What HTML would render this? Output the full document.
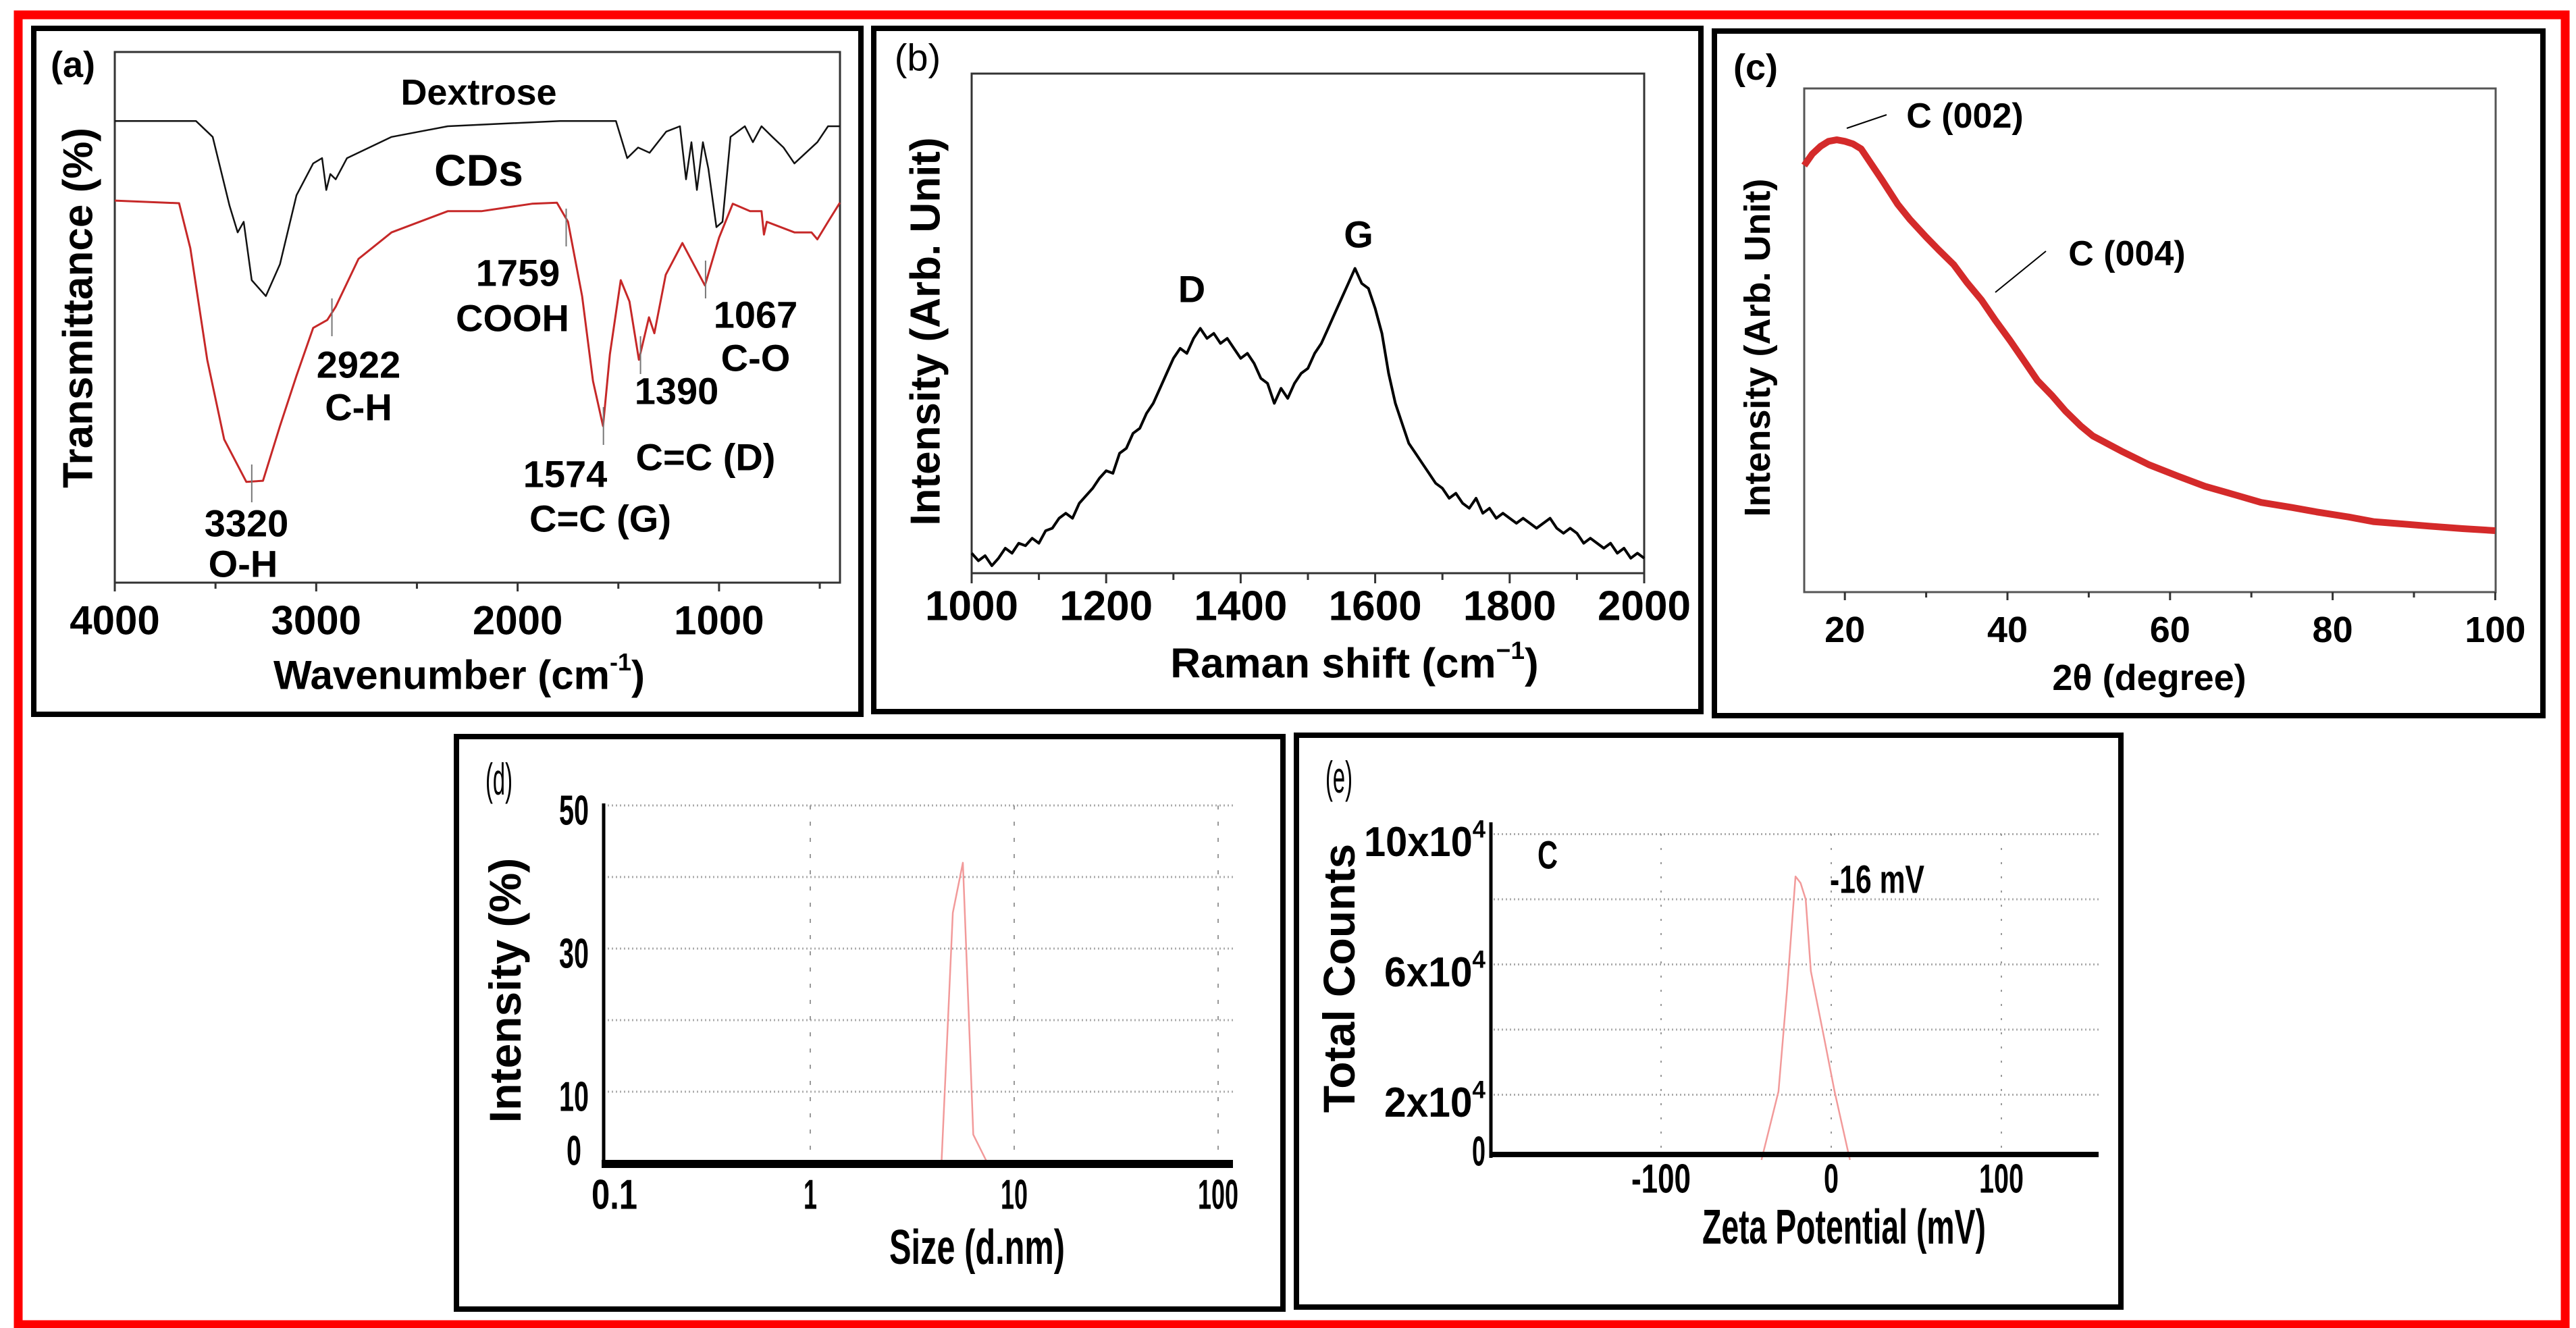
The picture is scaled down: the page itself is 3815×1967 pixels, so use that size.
<!DOCTYPE html>
<html><head><meta charset="utf-8"><style>
html,body{margin:0;padding:0;background:#fff;}
svg{display:block;font-family:"Liberation Sans",Arial,sans-serif;}
</style></head><body>
<svg id="fig" xmlns="http://www.w3.org/2000/svg" width="3815" height="1967" viewBox="0 0 3815 1967">
<rect x="27" y="22" width="3772" height="1940" fill="none" stroke="#ff0000" stroke-width="13"/>
<rect x="50" y="42" width="1225" height="1016" fill="none" stroke="#000" stroke-width="8"/>
<rect x="1294" y="42" width="1225" height="1012" fill="none" stroke="#000" stroke-width="8"/>
<rect x="2539" y="46" width="1227" height="1014" fill="none" stroke="#000" stroke-width="8"/>
<rect x="676" y="1091" width="1224" height="848" fill="none" stroke="#000" stroke-width="8"/>
<rect x="1920" y="1089" width="1221" height="847" fill="none" stroke="#000" stroke-width="8"/>
<g id="layer"></g>
</svg>
<script>
// ---- Panel a: FTIR ----
const dexWn = [4000,3597,3514,3430,3390,3360,3320,3250,3180,3098,3015,2971,2950,2930,2903,2847,2626,2347,1790,1512,1456,1402,1345,1262,1194,1164,1137,1110,1080,1053,1013,983,943,872,832,789,735,680,626,569,512,459,400];
const dexT = [87,87,84,71,66,68,57,54,60,73,79,80,74,77,76,80,84,86,87,87,80,82,81,85,86,76,83,74,83,78,67,68,84,86,83,86,84,82,79,81,83,86,86];
const cdsWn = [4000,3681,3625,3541,3457,3347,3264,3180,3098,3015,2945,2903,2790,2626,2347,2180,1929,1805,1750,1680,1626,1576,1542,1488,1445,1398,1348,1321,1265,1182,1126,1070,1000,932,846,789,777,763,626,541,512,459,400];
const cdsT = [72,71.5,63,42,27,19,19.2,29.5,39,48,49.5,52,61,66,70,70,71.4,71.6,68,54,38,29.5,43,57,53,42,50,47,58,64,60,56,65,71.4,70,70,65.6,68,66,66,64.7,68,71.6];
const aTickVals = [4000,3000,2000,1000];
const aMinorVals = [3500,2500,1500,500];
const aMarkWn = [3320,2922,1759,1574,1390,1067];
// ---- Panel b: Raman ----
const ramanShift = [1000,1010,1020,1030,1040,1050,1060,1070,1080,1090,1100,1110,1120,1130,1140,1150,1160,1170,1180,1190,1200,1210,1220,1230,1240,1250,1260,1270,1280,1290,1300,1310,1320,1330,1340,1350,1360,1370,1380,1390,1400,1410,1420,1430,1440,1450,1460,1470,1480,1490,1500,1510,1520,1530,1540,1550,1560,1570,1580,1590,1600,1610,1620,1630,1640,1650,1660,1670,1680,1690,1700,1710,1720,1730,1740,1750,1760,1770,1780,1790,1800,1810,1820,1830,1840,1850,1860,1870,1880,1890,1900,1910,1920,1930,1940,1950,1960,1970,1980,1990,2000];
const ramanInt = [4,2.5,3.5,1.5,3,5,4,6,5.5,7,6,8.5,9,11,12,11,14,15.5,17,19,20.5,20,24,25,28,29,32,34,37,40,43,45,44,47,49,47,48,46,47,45,43,44,42,39,38,34,37,35,38,40,41,44,46,49,52,55,58,61,58,57,53,48,40,34,30,26,24,22,20,18,17,15,16,14,13,15,12,13,11,12,11,10,11,10,9,10,11,9,8,9,8,6,7,6,5,6,4,5,3,4,3];
const bTickVals = [1000,1200,1400,1600,1800,2000];
const bMinorVals = [1100,1300,1500,1700,1900];
// ---- Panel c: XRD ----
const xrdAngle = [15,16,17,18,19,20,21,22,23,24.5,26.5,28,30,31.5,33.4,35,36.8,38.5,40.3,42,43.7,45.5,47.1,49,50.5,54,57.4,61,64.3,68,71.2,75,78.1,82,85,88,91.9,96,100];
const xrdInt = [84.7,87,88.5,89.5,89.8,89.5,89,88,85.6,82,77,74,70.5,68,65,61.5,58,54,50,46,42,39,36,33,31,28,25.3,23,21,19.3,17.8,16.8,15.9,14.9,14,13.6,13.1,12.6,12.2];
const cTickVals = [20,40,60,80,100];
const cMinorVals = [30,50,70,90];
// ---- Panel d: DLS size ----
const dlsSize = [4.4,4.7,5.0,5.6,6.0,6.3,7.4];
const dlsPct = [0,18,35,42,20,4,0];
const dTickVals = [0.1,1,10,100];
const dYTicks = [0,10,30,50];
const dGrid = [10,20,30,40,50];
// ---- Panel e: Zeta ----
const zetaMv = [-41,-31,-26,-21,-18,-15,-12,-4,2,11];
const zetaCounts = [0,21000,52000,87000,85000,80000,58000,37000,21000,0];
const eXTicks = [-100,0,100];
const eYTicks = [0,20000,60000,100000];
const eYLabels = ['0','2x10','6x10','10x10'];
const eGrid = [20000,40000,60000,80000,100000];

const NS='http://www.w3.org/2000/svg';
const layer=document.getElementById('layer');
function el(tag,attrs,name,parent){
  const e=document.createElementNS(NS,tag);
  for(const k in attrs) e.setAttribute(k,attrs[k]);
  
  
  (parent||layer).appendChild(e);
  return e;
}
function txt(x,y,s,size,name,opts){
  opts=opts||{};
  const a={x:x,y:y,'font-size':size,'font-weight':opts.weight||'bold','text-anchor':opts.anchor||'middle','dominant-baseline':'central',fill:opts.fill||'#000'};
  if(opts.rot) a.transform='rotate('+opts.rot+' '+x+' '+y+')';
  if(opts.len){a.textLength=opts.len;a.lengthAdjust='spacingAndGlyphs';}
  const t=el('text',a,name);
  t.textContent=s;
  return t;
}
function sup(t,s,name,dy){
  const sp=document.createElementNS(NS,'tspan');
  
  
  sp.setAttribute('dy',dy);
  sp.setAttribute('font-size','0.6em');
  sp.textContent=s;
  t.appendChild(sp);
  return sp;
}
function closeParen(t,name,dy){
  const sp=document.createElementNS(NS,'tspan');
  
  
  sp.setAttribute('dy',dy);
  sp.textContent=')';
  t.appendChild(sp);
}
function poly(xs,ys,fx,fy,stroke,w,name){
  const pts=xs.map((v,i)=>fx(v).toFixed(1)+','+fy(ys[i]).toFixed(1)).join(' ');
  return el('polyline',{points:pts,fill:'none',stroke:stroke,'stroke-width':w,'stroke-linejoin':'round'},name);
}

// Panel a
const xA=w=>170+(4000-w)*0.2983, yA=t=>863-t*7.86;
el('rect',{x:170,y:77,width:1074,height:786,fill:'none',stroke:'#333',"stroke-width":3},'panel-a-plot-frame');
aTickVals.forEach(v=>{
  el('line',{x1:xA(v),x2:xA(v),y1:863,y2:876,stroke:'#333','stroke-width':3},'panel-a-x-tick');
  txt(xA(v),919,String(v),60,'panel-a-x-tick-label');
});
aMinorVals.forEach(v=>{el('line',{x1:xA(v),x2:xA(v),y1:863,y2:872,stroke:'#333','stroke-width':3},'panel-a-x-minor-tick');});
poly(dexWn,dexT,xA,yA,'#111',2.5,'dextrose-spectrum');
poly(cdsWn,cdsT,xA,yA,'#c62828',3,'cds-spectrum');
const aMarkTop=[688,442,309,603,498,386];
aMarkWn.forEach((w,i)=>{el('line',{x1:xA(w),x2:xA(w),y1:aMarkTop[i],y2:aMarkTop[i]+56,stroke:'#777','stroke-width':2},'peak-marker-'+w);});
txt(709,137,'Dextrose',54,'dextrose-label');
txt(709,252,'CDs',66,'cds-label');
txt(365,775,'3320',56,'label-3320');txt(360,835,'O-H',56,'label-o-h');
txt(531,540,'2922',56,'label-2922');txt(531,603,'C-H',56,'label-c-h');
txt(767,404,'1759',56,'label-1759');txt(759,471,'COOH',56,'label-cooh');
txt(837,702,'1574',56,'label-1574');txt(889,768,'C=C (G)',56,'label-c-c-g');
txt(1002,579,'1390',56,'label-1390');txt(1045,677,'C=C (D)',56,'label-c-c-d');
txt(1119,466,'1067',56,'label-1067');txt(1119,530,'C-O',56,'label-c-o');
const ta=txt(680,1000,'Wavenumber (cm',60,'panel-a-x-title');sup(ta,'-1','panel-a-x-title-sup',-20);closeParen(ta,'panel-a-x-title-close',20);
txt(116,456,'Transmittance (%)',62,'panel-a-y-title',{rot:-90});
txt(108,96,'(a)',54,'panel-a-label');

// Panel b
const xB=v=>1439+(v-1000)*0.996, yB=i=>849-i*7.4;
el('rect',{x:1439,y:109,width:996,height:740,fill:'none',stroke:'#333',"stroke-width":3},'panel-b-plot-frame');
bTickVals.forEach(v=>{
  el('line',{x1:xB(v),x2:xB(v),y1:849,y2:864,stroke:'#333','stroke-width':3},'panel-b-x-tick');
  txt(xB(v),898,String(v),62,'panel-b-x-tick-label');
});
bMinorVals.forEach(v=>{el('line',{x1:xB(v),x2:xB(v),y1:849,y2:859,stroke:'#333','stroke-width':3},'panel-b-x-minor-tick');});
poly(ramanShift,ramanInt,xB,yB,'#000',4,'raman-spectrum');
txt(1765,428,'D',56,'raman-d-label');
txt(2012,347,'G',56,'raman-g-label');
const tb=txt(2006,983,'Raman shift (cm',62,'panel-b-x-title');sup(tb,'\u22121','panel-b-x-title-sup',-20);closeParen(tb,'panel-b-x-title-close',20);
txt(1371,491,'Intensity (Arb. Unit)',62,'panel-b-y-title',{rot:-90});
txt(1359,85,'(b)',56,'panel-b-label',{weight:'normal'});

// Panel c
const xC=v=>2672+(v-15)*12.04, yC=i=>877-i*7.46;
el('rect',{x:2672,y:131,width:1024,height:746,fill:'none',stroke:'#555',"stroke-width":3},'panel-c-plot-frame');
cTickVals.forEach(v=>{
  el('line',{x1:xC(v),x2:xC(v),y1:877,y2:889,stroke:'#333','stroke-width':3},'panel-c-x-tick');
  txt(xC(v),933,String(v),54,'panel-c-x-tick-label');
});
cMinorVals.forEach(v=>{el('line',{x1:xC(v),x2:xC(v),y1:877,y2:885,stroke:'#333','stroke-width':3},'panel-c-x-minor-tick');});
poly(xrdAngle,xrdInt,xC,yC,'#d42a2a',10,'xrd-pattern');
el('line',{x1:2794,y1:170,x2:2735,y2:190,stroke:'#000','stroke-width':2},'c002-arrow');
el('line',{x1:3030,y1:372,x2:2955,y2:433,stroke:'#000','stroke-width':2},'c004-arrow');
txt(2910,172,'C (002)',52,'c002-label');
txt(3150,376,'C (004)',52,'c004-label');
txt(3183,1004,'2\u03b8 (degree)',54,'panel-c-x-title');
txt(2603,515,'Intensity (Arb. Unit)',54,'panel-c-y-title',{rot:-90});
txt(2600,100,'(c)',54,'panel-c-label');

// Panel d
const xD=s=>898+Math.log10(s/0.1)*302, yD=p=>1723-p*10.6;
dGrid.forEach(p=>{el('line',{x1:894,x2:1826,y1:yD(p),y2:yD(p),stroke:'#aaa','stroke-width':3,'stroke-dasharray':'2 4'},'panel-d-h-grid');});
[1,10,100].forEach(s=>{el('line',{x1:xD(s),x2:xD(s),y1:1193,y2:1723,stroke:'#999','stroke-width':2,'stroke-dasharray':'6 18'},'panel-d-v-grid');});
poly(dlsSize,dlsPct,xD,yD,'#f29a9a',2.5,'size-distribution');
el('line',{x1:894,x2:894,y1:1190,y2:1728,stroke:'#000','stroke-width':5},'panel-d-y-axis');
el('line',{x1:891,x2:1826,y1:1724,y2:1724,stroke:'#000','stroke-width':12},'panel-d-x-axis');
dTickVals.forEach(s=>{txt(xD(s)+(s==0.1?12:0),1770,String(s),62,'panel-d-x-tick-label',{len:String(s).length*20+(String(s).includes('.')?8:0)});});
dYTicks.forEach(p=>{txt(850,yD(p)+(p==0?-18:8),String(p),62,'panel-d-y-tick-label',{len:String(p).length*22});});
txt(1447,1848,'Size (d.nm)',72,'panel-d-x-title',{len:260});
txt(748,1467,'Intensity (%)',66,'panel-d-y-title',{rot:-90});
txt(739,1154,'(d)',66,'panel-d-label',{weight:'normal',len:40});

// Panel e
const xE=z=>2712+z*2.52, yE=c=>1718-c*0.004825;
eGrid.forEach(c=>{el('line',{x1:2212,x2:3108,y1:yE(c),y2:yE(c),stroke:'#aaa','stroke-width':3,'stroke-dasharray':'2 4'},'panel-e-h-grid');});
eXTicks.forEach(z=>{el('line',{x1:xE(z),x2:xE(z),y1:1235,y2:1712,stroke:'#999','stroke-width':2,'stroke-dasharray':'3 18'},'panel-e-v-grid');});
poly(zetaMv,zetaCounts,xE,yE,'#f29a9a',2.5,'zeta-distribution');
el('line',{x1:2208,x2:2208,y1:1218,y2:1715,stroke:'#000','stroke-width':5},'panel-e-y-axis');
el('line',{x1:2206,x2:3108,y1:1710,y2:1710,stroke:'#000','stroke-width':8},'panel-e-x-axis');
eXTicks.forEach(z=>{txt(xE(z),1746,String(z),60,'panel-e-x-tick-label',{len:String(z).length*22});});
eYTicks.forEach((c,i)=>{
  const s=eYLabels[i];
  const lens={'0':20,'2x10':150,'6x10':150,'10x10':180};
  const t=txt(2200,yE(c)+(c==0?-12:12),s,62,'panel-e-y-tick-label',{weight:'bold',anchor:'end',len:lens[s]});
  if(s!=='0'){sup(t,'4','panel-e-y-tick-exp',-20);}
});
txt(2292,1267,'C',58,'sample-c-label',{len:30});
txt(2780,1303,'-16 mV',58,'zeta-peak-label',{len:140});
txt(2731,1818,'Zeta Potential (mV)',72,'panel-e-x-title',{len:420});
txt(1983,1449,'Total Counts',66,'panel-e-y-title',{rot:-90});
txt(1983,1151,'(e)',66,'panel-e-label',{weight:'normal',len:40});
</script>
</body></html>
